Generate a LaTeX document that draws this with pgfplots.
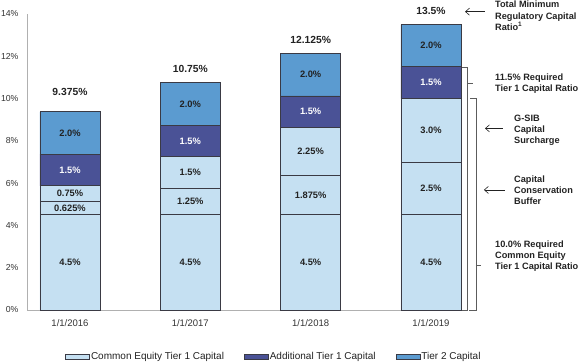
\documentclass[border=0pt]{standalone}
\usepackage{fontspec}
\setmainfont{Liberation Sans}
\usepackage{pgfplots}
\pgfplotsset{compat=1.18}
\usetikzlibrary{arrows.meta}
\definecolor{cLight}{HTML}{C5E0F2}
\definecolor{cDark}{HTML}{4A5296}
\definecolor{cMid}{HTML}{5B9BD0}
\definecolor{cEdge}{HTML}{3A3A44}
\definecolor{cAxis}{HTML}{B0B0B0}
\definecolor{cText}{HTML}{222222}
\definecolor{cTick}{HTML}{333333}
\tikzset{
  annot/.style={anchor=west, align=left, inner sep=0pt, text=cText, font=\bfseries\fontsize{9.2}{11.2}\selectfont},
  brk/.style={cTick!80, line width=0.6pt},
  arr/.style={cText, line width=0.6pt, -{Straight Barb[length=4pt,width=7pt]}},
}
\begin{document}
\begin{tikzpicture}
\path[use as bounding box] (0pt,0pt) rectangle (580pt,362pt);
\pgfplotsset{
  common/.style={
    at={(27pt,52pt)}, anchor=south west,
    scale only axis, width=435pt, height=296pt,
    xmin=-0.357, xmax=3.258, ymin=0, ymax=14, clip=false,
  }
}
\begin{axis}[
  common,
  ybar stacked, bar width=60pt,
  axis x line*=bottom, axis y line*=left,
  axis line style={-, draw=cAxis, line width=0.8pt},
  major tick length=0pt,
  xtick={0,1,2,3},
  xticklabels={1/1/2016,1/1/2017,1/1/2018,1/1/2019},
  xticklabel style={font=\fontsize{9.5}{11}\selectfont, text=cTick, yshift=-6pt},
  ytick={0,2,4,6,8,10,12,14},
  yticklabels={0\%,2\%,4\%,6\%,8\%,10\%,12\%,14\%},
  yticklabel style={font=\fontsize{8.7}{10}\selectfont, text=cTick, xshift=-5pt},
  legend columns=3,
  legend style={at={(0,0)}, anchor=west, xshift=38pt, yshift=-47pt, draw=none,
    font=\fontsize{10}{11}\selectfont, text=cText,
    nodes={inner sep=1pt},
    /tikz/every even column/.append style={column sep=19pt},
    inner sep=0pt},
  legend image code/.code={\draw[#1] (0pt,-2.5pt) rectangle (24pt,2.5pt);},
]
\addplot[fill=cLight, draw=cEdge, line width=0.8pt] coordinates {(0,4.5) (1,4.5) (2,4.5) (3,4.5)};
\addlegendentry{Common Equity Tier 1 Capital}
\addplot[fill=cLight, draw=cEdge, line width=0.8pt, forget plot] coordinates {(0,0.625) (1,1.25) (2,1.875) (3,2.5)};
\addplot[fill=cLight, draw=cEdge, line width=0.8pt, forget plot] coordinates {(0,0.75) (1,1.5) (2,2.25) (3,3.0)};
\addplot[fill=cDark, draw=cEdge, line width=0.8pt] coordinates {(0,1.5) (1,1.5) (2,1.5) (3,1.5)};
\addlegendentry{Additional Tier 1 Capital}
\addplot[fill=cMid, draw=cEdge, line width=0.8pt] coordinates {(0,2.0) (1,2.0) (2,2.0) (3,2.0)};
\addlegendentry{Tier 2 Capital}
\draw[brk] (axis cs:3.25,11.5) -- (axis cs:3.30,11.5) -- (axis cs:3.30,0) -- (axis cs:3.25,0);
\draw[brk] (axis cs:3.30,10.74) -- (axis cs:3.35,10.74);
\draw[brk] (axis cs:3.324,10) -- (axis cs:3.374,10) -- (axis cs:3.374,0) -- (axis cs:3.32,0);
\draw[brk] (axis cs:3.374,2.13) -- (axis cs:3.416,2.13);
\draw[arr] (axis cs:3.449,14.11) -- (axis cs:3.283,14.11);
\draw[arr] (axis cs:3.598,8.59) -- (axis cs:3.449,8.59);
\draw[arr] (axis cs:3.615,5.68) -- (axis cs:3.44,5.68);
\node[annot] at (axis cs:3.532,13.91) {Total Minimum\\Regulatory Capital\\Ratio\textsuperscript{1}};
\node[annot] at (axis cs:3.532,10.70) {11.5\% Required\\Tier 1 Capital Ratio};
\node[annot] at (axis cs:3.69,8.515) {G-SIB\\Capital\\Surcharge};
\node[annot] at (axis cs:3.69,5.676) {Capital\\Conservation\\Buffer};
\node[annot] at (axis cs:3.532,2.554) {10.0\% Required\\Common Equity\\Tier 1 Capital Ratio};
\end{axis}
\begin{axis}[common, hide axis]
\addplot[draw=none, mark=none, nodes near coords, point meta=explicit symbolic,
  nodes near coords style={anchor=center, inner sep=0pt, text=cText, font=\bfseries\fontsize{9.3}{10}\selectfont}]
coordinates {
(0,2.25)[4.5\%] (0,4.8125)[0.625\%] (0,5.5)[0.75\%] (0,8.375)[2.0\%]
(1,2.25)[4.5\%] (1,5.125)[1.25\%] (1,6.5)[1.5\%] (1,9.75)[2.0\%]
(2,2.25)[4.5\%] (2,5.4375)[1.875\%] (2,7.5)[2.25\%] (2,11.125)[2.0\%]
(3,2.25)[4.5\%] (3,5.75)[2.5\%] (3,8.5)[3.0\%] (3,12.5)[2.0\%]
};
\addplot[draw=none, mark=none, nodes near coords, point meta=explicit symbolic,
  nodes near coords style={anchor=center, inner sep=0pt, text=white, font=\bfseries\fontsize{9.3}{10}\selectfont}]
coordinates {(0,6.625)[1.5\%] (1,8.0)[1.5\%] (2,9.375)[1.5\%] (3,10.75)[1.5\%]};
\addplot[draw=none, mark=none, nodes near coords, point meta=explicit symbolic,
  nodes near coords style={anchor=center, inner sep=0pt, text=cText, font=\bfseries\fontsize{10.3}{11}\selectfont}]
coordinates {(0,10.31)[9.375\%] (1,11.40)[10.75\%] (2,12.77)[12.125\%] (3,14.14)[13.5\%]};
\end{axis}
\end{tikzpicture}
\end{document}
